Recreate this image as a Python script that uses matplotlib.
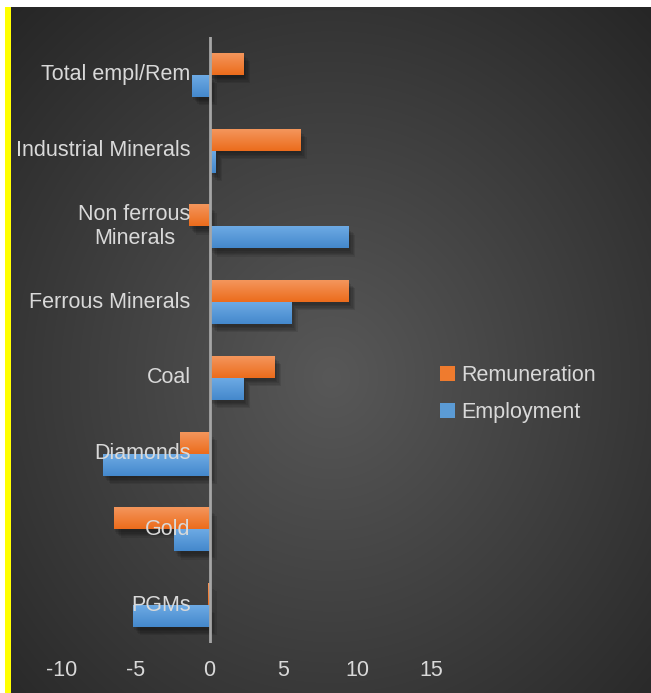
import numpy as np
import matplotlib
matplotlib.use("Agg")
import matplotlib.pyplot as plt
from matplotlib.patches import Patch, Rectangle
from matplotlib import patheffects as pe

categories = ["PGMs", "Gold", "Diamonds", "Coal", "Ferrous Minerals",
              "Non ferrous\nMinerals", "Industrial Minerals", "Total empl/Rem"]
employment = [-5.2, -2.4, -7.2, 2.3, 5.5, 9.4, 0.4, -1.2]
remuneration = [-0.1, -6.5, -2.0, 4.4, 9.4, -1.4, 6.1, 2.3]
xticks = [-10, -5, 0, 5, 10, 15]

W, H = 651, 693
plt.rcParams["font.family"] = ["Liberation Sans", "DejaVu Sans"]
txt_col = "#d9d9d9"
fs = 15.5

fig = plt.figure(figsize=(W / 100, H / 100), dpi=100)
fig.patch.set_facecolor("white")

# radial grey background behind the chart
bg = fig.add_axes([11 / W, 0, 1 - 11 / W, 1 - 7 / H])
bg.set_axis_off()
yy, xx = np.mgrid[0:686, 0:640]
cx, cy = 320, 370
r = np.sqrt(((xx - cx) / 330.0) ** 2 + ((yy - cy) / 360.0) ** 2) / np.sqrt(2)
r = np.clip(r, 0, 1)
val = (0x58 + (0x26 - 0x58) * r) / 255.0
bg.imshow(np.dstack([val, val, val]), aspect="auto", interpolation="bilinear")
fig.patches.append(Rectangle((5 / W, 0), 6 / W, 1 - 7 / H, transform=fig.transFigure,
                             facecolor="#ffff00", edgecolor="none"))

ax = fig.add_axes([62 / W, 50 / H, 369 / W, 606 / H])
ax.set_facecolor("none")

h = 0.29
y = np.arange(len(categories))
orange_top, orange_bot = np.array([0xf4, 0x96, 0x5c]) / 255, np.array([0xec, 0x6c, 0x1c]) / 255
blue_top, blue_bot = np.array([0x6d, 0xaa, 0xe4]) / 255, np.array([0x44, 0x88, 0xcc]) / 255
# layered offsets give a soft drop shadow
shadow = [pe.SimplePatchShadow(offset=(o, -o - 1), shadow_rgbFace="black", alpha=0.09)
          for o in (5, 4, 3, 2, 1)] + [pe.Normal()]


def gradient_bars(vals, offs, top, bot, label):
    bars = ax.barh(y + offs, vals, height=h, color=bot, label=label, zorder=2)
    grad = np.linspace(0, 1, 64)[:, None, None] * (bot - top) + top
    for b in bars:
        b.set_path_effects(shadow)
        x0, y0 = b.get_x(), b.get_y()
        im = ax.imshow(grad, extent=(x0, x0 + b.get_width(), y0, y0 + b.get_height()),
                       origin="upper", aspect="auto", zorder=3, interpolation="bilinear")
        im.set_clip_path(b)
    return bars


gradient_bars(employment, -h / 2, blue_top, blue_bot, "Employment")
gradient_bars(remuneration, h / 2, orange_top, orange_bot, "Remuneration")
ax.set_xlim(-10, 15)
ax.set_ylim(-0.5, len(categories) - 0.5)

ax.axvline(0, color="#a6a6a6", lw=2, zorder=4)

for i, name in enumerate(categories):
    ax.annotate(name, xy=(0, i), xytext=(-19, 0), textcoords="offset pixels",
                ha="right", va="center", color=txt_col, fontsize=fs,
                multialignment="center", zorder=5, annotation_clip=False)

ax.set_xticks(xticks)
ax.set_xticklabels([str(t) for t in xticks])
ax.tick_params(axis="x", length=0, pad=12, colors=txt_col, labelsize=fs)
ax.set_yticks([])
for s in ax.spines.values():
    s.set_visible(False)

handles = [Patch(facecolor="#ef7b2e"), Patch(facecolor="#5b9bd5")]
fig.legend(handles, ["Remuneration", "Employment"], loc="upper left",
           bbox_to_anchor=(429 / W, 1 - 354 / H), frameon=False,
           handlelength=0.7, handleheight=0.7, handletextpad=0.3,
           labelspacing=0.75, fontsize=fs, labelcolor=txt_col, borderpad=0)

fig.savefig("out.png", dpi=100, facecolor="white")
